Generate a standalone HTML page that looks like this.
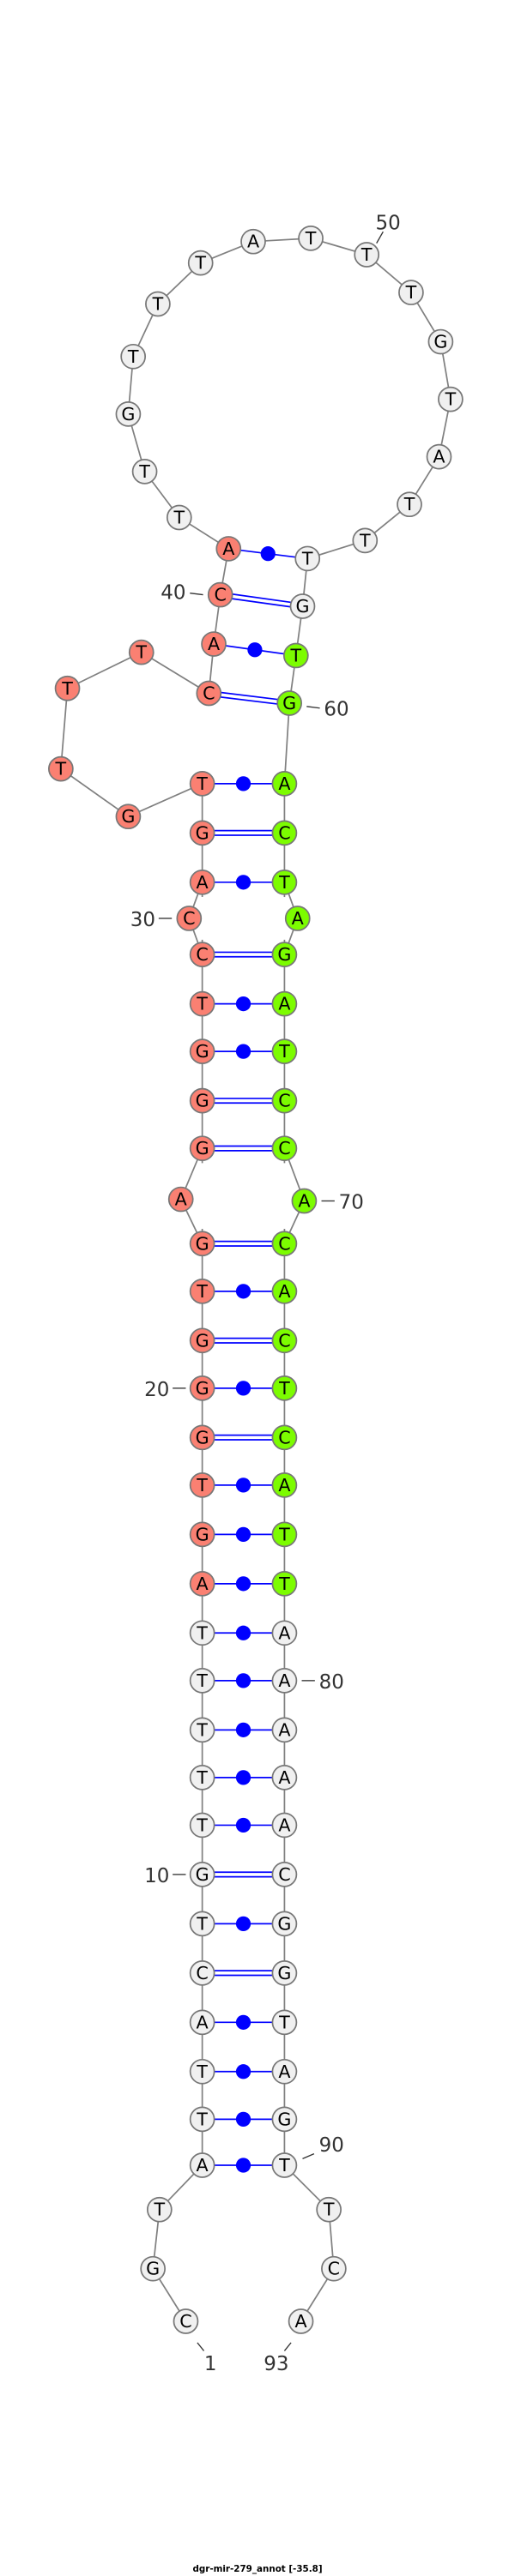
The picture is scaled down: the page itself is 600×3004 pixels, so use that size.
<!DOCTYPE html>
<html><head><meta charset="utf-8"><style>html,body{margin:0;padding:0;background:#fff}svg{display:block}</style></head>
<body>
<svg width="600" height="3004" viewBox="0 0 313.2 1568" xmlns="http://www.w3.org/2000/svg" font-family="DejaVu Sans, Liberation Sans, sans-serif">
<g stroke="#808080" stroke-width="0.9" fill="none">
<polyline points="113,1413 93,1381 97,1345 123,1318 123,477 78,497 37,468 41,419 86,397 127,422 130,392 134,362 139,334 109,315 88,287 78,252 81,217 96,185 122,160 154,147 189,145 223,155 250,178 268,208 274,243 267,278 249,307 222,329 187,340 184,369 180,399 176,428 173,477 173,1318 200,1345 203,1381 183,1413"/>
</g>
<g stroke="#808080" stroke-width="0.9" fill="none">
<line x1="123" y1="757" x2="110" y2="730"/><line x1="110" y1="730" x2="123" y2="699"/>
<line x1="123" y1="581" x2="115" y2="559"/><line x1="115" y1="559" x2="123" y2="537"/>
<line x1="173" y1="757" x2="185" y2="731"/><line x1="185" y1="731" x2="173" y2="699"/>
<line x1="173" y1="581" x2="181" y2="559"/><line x1="181" y1="559" x2="173" y2="537"/>
</g>
<g stroke="#fff" stroke-width="2">
<line x1="123" y1="708" x2="123" y2="748"/><line x1="123" y1="546" x2="123" y2="572"/>
<line x1="173" y1="708" x2="173" y2="748"/><line x1="173" y1="546" x2="173" y2="572"/>
</g>
<g stroke="#0000ff" stroke-width="0.9">
<line x1="123" y1="1318" x2="173" y2="1318"/><line x1="123" y1="1290" x2="173" y2="1290"/>
<line x1="123" y1="1261" x2="173" y2="1261"/><line x1="123" y1="1231" x2="173" y2="1231"/>
<line x1="123" y1="1171" x2="173" y2="1171"/><line x1="123" y1="1111" x2="173" y2="1111"/>
<line x1="123" y1="1082" x2="173" y2="1082"/><line x1="123" y1="1053" x2="173" y2="1053"/>
<line x1="123" y1="1023" x2="173" y2="1023"/><line x1="123" y1="994" x2="173" y2="994"/>
<line x1="123" y1="964" x2="173" y2="964"/><line x1="123" y1="934" x2="173" y2="934"/>
<line x1="123" y1="904" x2="173" y2="904"/><line x1="123" y1="845" x2="173" y2="845"/>
<line x1="123" y1="786" x2="173" y2="786"/><line x1="123" y1="640" x2="173" y2="640"/>
<line x1="123" y1="611" x2="173" y2="611"/><line x1="123" y1="537" x2="173" y2="537"/>
<line x1="123" y1="477" x2="173" y2="477"/><line x1="130" y1="392" x2="180" y2="399"/>
<line x1="139" y1="334" x2="187" y2="340"/>
<line x1="123" y1="1199.6" x2="173" y2="1199.6"/><line x1="123" y1="1202.4" x2="173" y2="1202.4"/>
<line x1="123" y1="1139.6" x2="173" y2="1139.6"/><line x1="123" y1="1142.4" x2="173" y2="1142.4"/>
<line x1="123" y1="873.6" x2="173" y2="873.6"/><line x1="123" y1="876.4" x2="173" y2="876.4"/>
<line x1="123" y1="814.6" x2="173" y2="814.6"/><line x1="123" y1="817.4" x2="173" y2="817.4"/>
<line x1="123" y1="755.6" x2="173" y2="755.6"/><line x1="123" y1="758.4" x2="173" y2="758.4"/>
<line x1="123" y1="697.6" x2="173" y2="697.6"/><line x1="123" y1="700.4" x2="173" y2="700.4"/>
<line x1="123" y1="668.6" x2="173" y2="668.6"/><line x1="123" y1="671.4" x2="173" y2="671.4"/>
<line x1="123" y1="579.6" x2="173" y2="579.6"/><line x1="123" y1="582.4" x2="173" y2="582.4"/>
<line x1="123" y1="505.6" x2="173" y2="505.6"/><line x1="123" y1="508.4" x2="173" y2="508.4"/>
<line x1="127" y1="420.6" x2="176" y2="426.6"/><line x1="127" y1="423.4" x2="176" y2="429.4"/>
<line x1="134" y1="360.6" x2="184" y2="367.6"/><line x1="134" y1="363.4" x2="184" y2="370.4"/>
</g>
<g fill="#0000ff">
<circle cx="148" cy="1318" r="4.5"/><circle cx="148" cy="1290" r="4.5"/><circle cx="148" cy="1261" r="4.5"/>
<circle cx="148" cy="1231" r="4.5"/><circle cx="148" cy="1171" r="4.5"/><circle cx="148" cy="1111" r="4.5"/>
<circle cx="148" cy="1082" r="4.5"/><circle cx="148" cy="1053" r="4.5"/><circle cx="148" cy="1023" r="4.5"/>
<circle cx="148" cy="994" r="4.5"/><circle cx="148" cy="964" r="4.5"/><circle cx="148" cy="934" r="4.5"/>
<circle cx="148" cy="904" r="4.5"/><circle cx="148" cy="845" r="4.5"/><circle cx="148" cy="786" r="4.5"/>
<circle cx="148" cy="640" r="4.5"/><circle cx="148" cy="611" r="4.5"/><circle cx="148" cy="537" r="4.5"/>
<circle cx="148" cy="477" r="4.5"/><circle cx="155" cy="395.5" r="4.5"/><circle cx="163" cy="337" r="4.5"/>
</g>
<g stroke="#777" stroke-width="0.9">
<g fill="#f0f0f0">
<circle cx="113" cy="1413" r="7.3"/><circle cx="93" cy="1381" r="7.3"/><circle cx="97" cy="1345" r="7.3"/>
<circle cx="123" cy="1318" r="7.3"/><circle cx="123" cy="1290" r="7.3"/><circle cx="123" cy="1261" r="7.3"/>
<circle cx="123" cy="1231" r="7.3"/><circle cx="123" cy="1201" r="7.3"/><circle cx="123" cy="1171" r="7.3"/>
<circle cx="123" cy="1141" r="7.3"/><circle cx="123" cy="1111" r="7.3"/><circle cx="123" cy="1082" r="7.3"/>
<circle cx="123" cy="1053" r="7.3"/><circle cx="123" cy="1023" r="7.3"/><circle cx="123" cy="994" r="7.3"/>
<circle cx="109" cy="315" r="7.3"/><circle cx="88" cy="287" r="7.3"/><circle cx="78" cy="252" r="7.3"/>
<circle cx="81" cy="217" r="7.3"/><circle cx="96" cy="185" r="7.3"/><circle cx="122" cy="160" r="7.3"/>
<circle cx="154" cy="147" r="7.3"/><circle cx="189" cy="145" r="7.3"/><circle cx="223" cy="155" r="7.3"/>
<circle cx="250" cy="178" r="7.3"/><circle cx="268" cy="208" r="7.3"/><circle cx="274" cy="243" r="7.3"/>
<circle cx="267" cy="278" r="7.3"/><circle cx="249" cy="307" r="7.3"/><circle cx="222" cy="329" r="7.3"/>
<circle cx="187" cy="340" r="7.3"/><circle cx="184" cy="369" r="7.3"/>
<circle cx="173" cy="994" r="7.3"/><circle cx="173" cy="1023" r="7.3"/><circle cx="173" cy="1053" r="7.3"/>
<circle cx="173" cy="1082" r="7.3"/><circle cx="173" cy="1111" r="7.3"/><circle cx="173" cy="1141" r="7.3"/>
<circle cx="173" cy="1171" r="7.3"/><circle cx="173" cy="1201" r="7.3"/><circle cx="173" cy="1231" r="7.3"/>
<circle cx="173" cy="1261" r="7.3"/><circle cx="173" cy="1290" r="7.3"/><circle cx="173" cy="1318" r="7.3"/>
<circle cx="200" cy="1345" r="7.3"/><circle cx="203" cy="1381" r="7.3"/><circle cx="183" cy="1413" r="7.3"/>
</g>
<g fill="#fa8072">
<circle cx="123" cy="964" r="7.3"/><circle cx="123" cy="934" r="7.3"/><circle cx="123" cy="904" r="7.3"/>
<circle cx="123" cy="875" r="7.3"/><circle cx="123" cy="845" r="7.3"/><circle cx="123" cy="816" r="7.3"/>
<circle cx="123" cy="786" r="7.3"/><circle cx="123" cy="757" r="7.3"/><circle cx="110" cy="730" r="7.3"/>
<circle cx="123" cy="699" r="7.3"/><circle cx="123" cy="670" r="7.3"/><circle cx="123" cy="640" r="7.3"/>
<circle cx="123" cy="611" r="7.3"/><circle cx="123" cy="581" r="7.3"/><circle cx="115" cy="559" r="7.3"/>
<circle cx="123" cy="537" r="7.3"/><circle cx="123" cy="507" r="7.3"/><circle cx="123" cy="477" r="7.3"/>
<circle cx="78" cy="497" r="7.3"/><circle cx="37" cy="468" r="7.3"/><circle cx="41" cy="419" r="7.3"/>
<circle cx="86" cy="397" r="7.3"/><circle cx="127" cy="422" r="7.3"/><circle cx="130" cy="392" r="7.3"/>
<circle cx="134" cy="362" r="7.3"/><circle cx="139" cy="334" r="7.3"/>
</g>
<g fill="#7cfc00">
<circle cx="180" cy="399" r="7.3"/><circle cx="176" cy="428" r="7.3"/>
<circle cx="173" cy="477" r="7.3"/><circle cx="173" cy="507" r="7.3"/><circle cx="173" cy="537" r="7.3"/>
<circle cx="181" cy="559" r="7.3"/><circle cx="173" cy="581" r="7.3"/><circle cx="173" cy="611" r="7.3"/>
<circle cx="173" cy="640" r="7.3"/><circle cx="173" cy="670" r="7.3"/><circle cx="173" cy="699" r="7.3"/>
<circle cx="185" cy="731" r="7.3"/><circle cx="173" cy="757" r="7.3"/><circle cx="173" cy="786" r="7.3"/>
<circle cx="173" cy="816" r="7.3"/><circle cx="173" cy="845" r="7.3"/><circle cx="173" cy="875" r="7.3"/>
<circle cx="173" cy="904" r="7.3"/><circle cx="173" cy="934" r="7.3"/><circle cx="173" cy="964" r="7.3"/>
</g>
</g>
<g font-size="10.8" text-anchor="middle" fill="#000" dominant-baseline="central">
<text x="113" y="1413">C</text><text x="93" y="1381">G</text><text x="97" y="1345">T</text>
<text x="123" y="1318">A</text><text x="123" y="1290">T</text><text x="123" y="1261">T</text>
<text x="123" y="1231">A</text><text x="123" y="1201">C</text><text x="123" y="1171">T</text>
<text x="123" y="1141">G</text><text x="123" y="1111">T</text><text x="123" y="1082">T</text>
<text x="123" y="1053">T</text><text x="123" y="1023">T</text><text x="123" y="994">T</text>
<text x="123" y="964">A</text><text x="123" y="934">G</text><text x="123" y="904">T</text>
<text x="123" y="875">G</text><text x="123" y="845">G</text><text x="123" y="816">G</text>
<text x="123" y="786">T</text><text x="123" y="757">G</text><text x="110" y="730">A</text>
<text x="123" y="699">G</text><text x="123" y="670">G</text><text x="123" y="640">G</text>
<text x="123" y="611">T</text><text x="123" y="581">C</text><text x="115" y="559">C</text>
<text x="123" y="537">A</text><text x="123" y="507">G</text><text x="123" y="477">T</text>
<text x="78" y="497">G</text><text x="37" y="468">T</text><text x="41" y="419">T</text>
<text x="86" y="397">T</text><text x="127" y="422">C</text><text x="130" y="392">A</text>
<text x="134" y="362">C</text><text x="139" y="334">A</text>
<text x="109" y="315">T</text><text x="88" y="287">T</text><text x="78" y="252">G</text>
<text x="81" y="217">T</text><text x="96" y="185">T</text><text x="122" y="160">T</text>
<text x="154" y="147">A</text><text x="189" y="145">T</text><text x="223" y="155">T</text>
<text x="250" y="178">T</text><text x="268" y="208">G</text><text x="274" y="243">T</text>
<text x="267" y="278">A</text><text x="249" y="307">T</text><text x="222" y="329">T</text>
<text x="187" y="340">T</text><text x="184" y="369">G</text><text x="180" y="399">T</text>
<text x="176" y="428">G</text><text x="173" y="477">A</text><text x="173" y="507">C</text>
<text x="173" y="537">T</text><text x="181" y="559">A</text><text x="173" y="581">G</text>
<text x="173" y="611">A</text><text x="173" y="640">T</text><text x="173" y="670">C</text>
<text x="173" y="699">C</text><text x="185" y="731">A</text><text x="173" y="757">C</text>
<text x="173" y="786">A</text><text x="173" y="816">C</text><text x="173" y="845">T</text>
<text x="173" y="875">C</text><text x="173" y="904">A</text><text x="173" y="934">T</text>
<text x="173" y="964">T</text><text x="173" y="994">A</text><text x="173" y="1023">A</text>
<text x="173" y="1053">A</text><text x="173" y="1082">A</text><text x="173" y="1111">A</text>
<text x="173" y="1141">C</text><text x="173" y="1171">G</text><text x="173" y="1201">G</text>
<text x="173" y="1231">T</text><text x="173" y="1261">A</text><text x="173" y="1290">G</text>
<text x="173" y="1318">T</text><text x="200" y="1345">T</text><text x="203" y="1381">C</text>
<text x="183" y="1413">A</text>
</g>
<g stroke="#333" stroke-width="0.7">
<line x1="229" y1="148" x2="233" y2="141"/><line x1="115.5" y1="361" x2="123.5" y2="362"/>
<line x1="186.5" y1="430" x2="194.5" y2="431"/><line x1="96.5" y1="559" x2="104.5" y2="559"/>
<line x1="195.5" y1="731" x2="203.5" y2="731"/><line x1="105" y1="845" x2="113" y2="845"/>
<line x1="105" y1="1141" x2="113" y2="1141"/><line x1="183.5" y1="1023" x2="191.5" y2="1023"/>
<line x1="184" y1="1314" x2="191" y2="1311"/><line x1="120" y1="1426" x2="124" y2="1431"/>
<line x1="177" y1="1426" x2="173" y2="1431"/>
</g>
<g font-size="12" fill="#333" dominant-baseline="central">
<text x="236" y="136" text-anchor="middle">50</text>
<text x="113" y="361" text-anchor="end">40</text>
<text x="197" y="432" text-anchor="start">60</text>
<text x="94.5" y="560" text-anchor="end">30</text>
<text x="206" y="732" text-anchor="start">70</text>
<text x="103" y="846" text-anchor="end">20</text>
<text x="103" y="1142" text-anchor="end">10</text>
<text x="194" y="1024" text-anchor="start">80</text>
<text x="194" y="1306" text-anchor="start">90</text>
<text x="128" y="1439" text-anchor="middle">1</text>
<text x="168" y="1439" text-anchor="middle">93</text>
</g>
<text x="156.6" y="1564" font-size="5.4" font-weight="bold" text-anchor="middle" dominant-baseline="central" fill="#000">dgr-mir-279_annot [-35.8]</text>
</svg>
</body></html>
